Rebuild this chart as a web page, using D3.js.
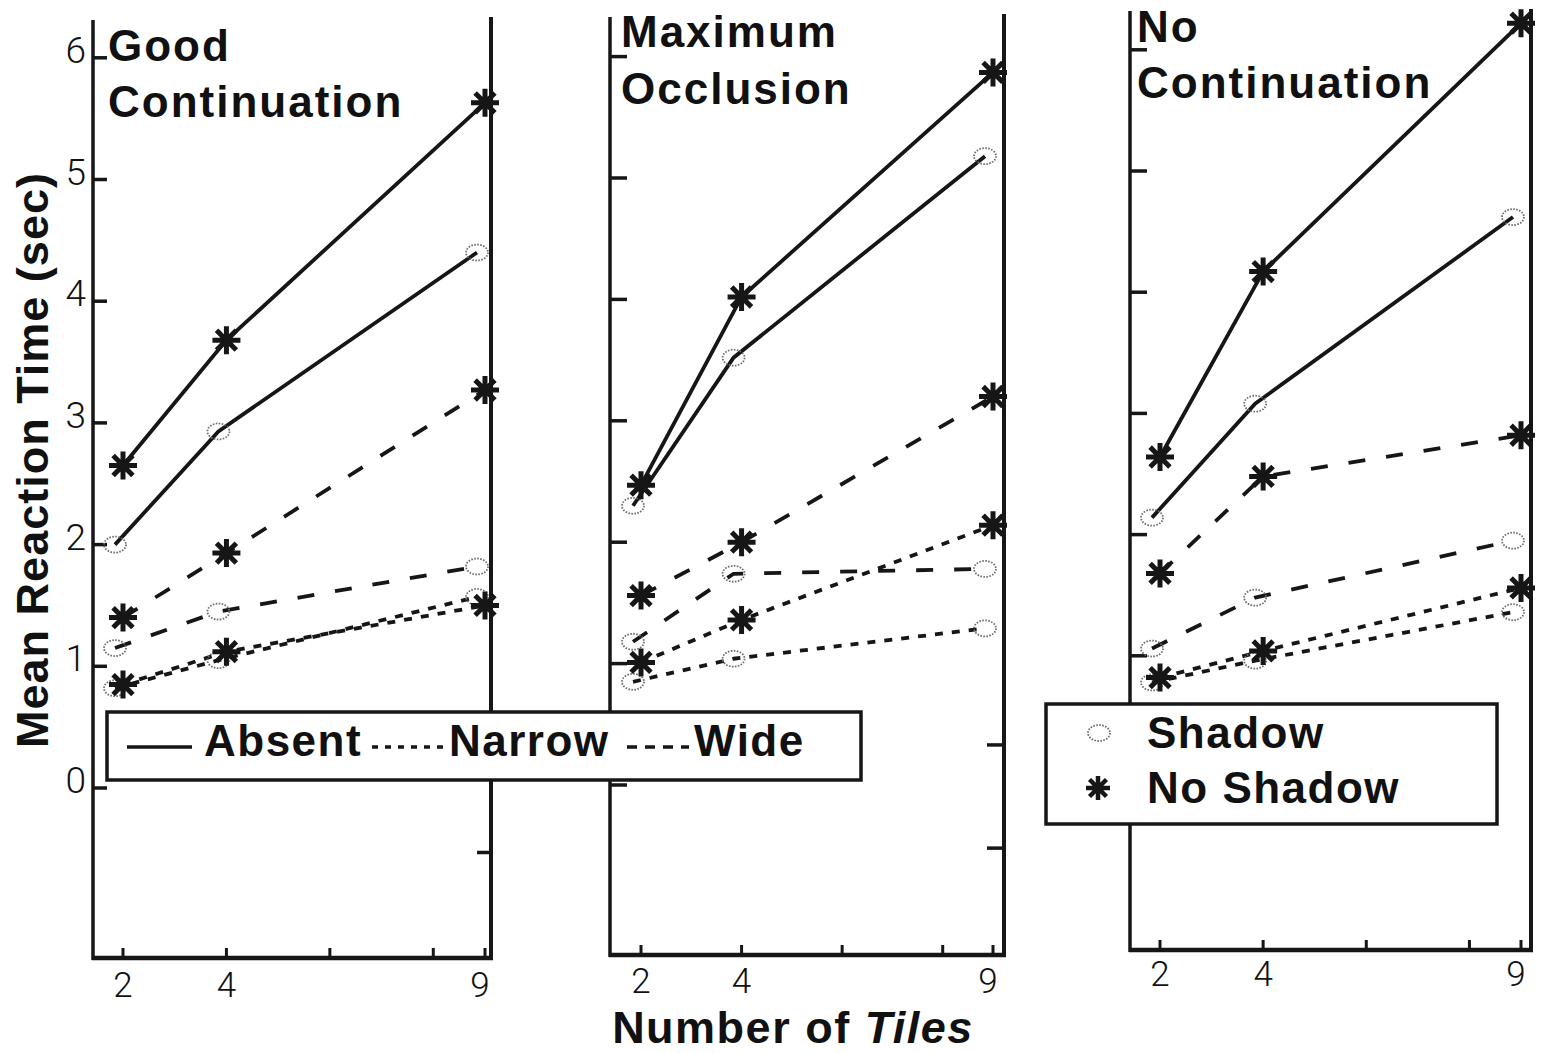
<!DOCTYPE html>
<html>
<head>
<meta charset="utf-8">
<script src="https://cdn.jsdelivr.net/npm/d3@7"></script>
<style>
  body { margin: 0; background: #fff; }
  text { font-family: "Liberation Sans", Arial, sans-serif; fill: #111; }
</style>
</head>
<body>
<div id="canvas"></div>
<script>
// number of tiles (x values)
const tiles = [2, 4, 9]
const xTicks = [2, 4, 6, 8, 9]
const xTickLabels = [2, 4, 9]
const yTicks = [0, 1, 2, 3, 4, 5, 6]

const panelTitles = [["Good", "Continuation"], ["Maximum", "Occlusion"], ["No", "Continuation"]]
const lineTypes = ["Absent", "Narrow", "Wide"]
const shadowTypes = ["Shadow", "No Shadow"]

// Good Continuation
const goodAbsentShadow = [2.00, 2.93, 4.40]
const goodAbsentNoShadow = [2.65, 3.68, 5.63]
const goodNarrowShadow = [0.82, 1.05, 1.57]
const goodNarrowNoShadow = [0.85, 1.12, 1.50]
const goodWideShadow = [1.15, 1.45, 1.82]
const goodWideNoShadow = [1.40, 1.93, 3.27]

// Maximum Occlusion
const occAbsentShadow = [2.30, 3.52, 5.18]
const occAbsentNoShadow = [2.47, 4.02, 5.87]
const occNarrowShadow = [0.85, 1.04, 1.29]
const occNarrowNoShadow = [1.01, 1.36, 2.14]
const occWideShadow = [1.18, 1.74, 1.78]
const occWideNoShadow = [1.56, 2.00, 3.20]

// No Continuation
const noAbsentShadow = [2.14, 3.08, 4.62]
const noAbsentNoShadow = [2.64, 4.17, 6.22]
const noNarrowShadow = [0.78, 0.96, 1.36]
const noNarrowNoShadow = [0.82, 1.04, 1.56]
const noWideShadow = [1.06, 1.48, 1.95]
const noWideNoShadow = [1.68, 2.48, 2.82]

// odd extra ticks on the right edge of each panel
const rightTicks = [[-0.53], [0.33, -0.52], []]

const panelData = [
    {Absent: [goodAbsentShadow, goodAbsentNoShadow], Narrow: [goodNarrowShadow, goodNarrowNoShadow], Wide: [goodWideShadow, goodWideNoShadow]},
    {Absent: [occAbsentShadow, occAbsentNoShadow], Narrow: [occNarrowShadow, occNarrowNoShadow], Wide: [occWideShadow, occWideNoShadow]},
    {Absent: [noAbsentShadow, noAbsentNoShadow], Narrow: [noNarrowShadow, noNarrowNoShadow], Wide: [noWideShadow, noWideNoShadow]}
]

// panel frames (pixels)
const frames = [
    {left: 93, right: 491, topL: 20, topR: 17, bottom: 958, x2: 123, x9: 485, y0: 788, unit: 121.7, tickLen: 14, labelY: 997},
    {left: 610, right: 1004, topL: 17, topR: 14, bottom: 955, x2: 641, x9: 993, y0: 785, unit: 121.4, tickLen: 17, labelY: 993},
    {left: 1130, right: 1531, topL: 11, topR: 9, bottom: 950, x2: 1160, x9: 1521, y0: 777, unit: 121.2, tickLen: 17, labelY: 986}
]
const titlePos = [[108, 61, 117], [621, 47, 104], [1137, 42, 98]]

const dashes = {Absent: null, Narrow: "8,9", Wide: "17,21"}
const ink = "#161616"

const svg = d3.select("#canvas").append("svg")
    .attr("width", 1541).attr("height", 1053)

function asteriskPath(r){
    let p = ""
    for (let i = 0; i < 8; i++) {
        const a = i * Math.PI / 4
        p += `M0,0L${(r * Math.cos(a)).toFixed(2)},${(r * Math.sin(a)).toFixed(2)}`
    }
    return p
}

function drawAsterisk(g, x, y, r, w){
    g.append("path").attr("d", asteriskPath(r))
        .attr("transform", `translate(${x},${y})`)
        .attr("stroke", ink).attr("stroke-width", w || 5).attr("fill", "none")
}
function drawCircle(g, x, y, rx, ry){
    g.append("ellipse").attr("cx", x).attr("cy", y).attr("rx", rx).attr("ry", ry)
        .attr("fill", "none").attr("stroke", "#6f6f6f")
        .attr("stroke-width", 1.8).attr("stroke-dasharray", "1.6,1.4")
}

frames.forEach((f, pi) => {
    const g = svg.append("g")
    const x = d3.scaleLinear().domain([2, 9]).range([f.x2, f.x9])
    const y = d3.scaleLinear().domain([0, 6]).range([f.y0, f.y0 - 6 * f.unit])

    // frame lines
    g.append("line").attr("x1", f.left).attr("x2", f.left).attr("y1", f.topL).attr("y2", f.bottom + 2)
        .attr("stroke", ink).attr("stroke-width", 3.5)
    g.append("line").attr("x1", f.right).attr("x2", f.right).attr("y1", f.topR).attr("y2", f.bottom + 2)
        .attr("stroke", ink).attr("stroke-width", 4)
    g.append("line").attr("x1", f.left - 1).attr("x2", f.right + 2).attr("y1", f.bottom).attr("y2", f.bottom)
        .attr("stroke", ink).attr("stroke-width", 4.5)

    // y ticks
    g.selectAll(".yt").data(yTicks).enter().append("line")
        .attr("x1", f.left).attr("x2", f.left + f.tickLen)
        .attr("y1", d => y(d)).attr("y2", d => y(d))
        .attr("stroke", ink).attr("stroke-width", 3.5)
    g.selectAll(".rt").data(rightTicks[pi]).enter().append("line")
        .attr("x1", f.right).attr("x2", f.right - f.tickLen)
        .attr("y1", d => y(d)).attr("y2", d => y(d))
        .attr("stroke", ink).attr("stroke-width", 3.5)
    if (pi === 0) {
        g.selectAll(".yl").data(yTicks).enter().append("text")
            .attr("x", f.left - 7).attr("y", d => y(d) + 5)
            .attr("text-anchor", "end")
            .style("font-family", "Roboto, 'Liberation Sans', sans-serif")
            .style("font-weight", 300)
            .style("font-size", "37px")
            .text(d => d)
    }

    // x ticks
    g.selectAll(".xt").data(xTicks).enter().append("line")
        .attr("x1", d => x(d)).attr("x2", d => x(d))
        .attr("y1", f.bottom).attr("y2", f.bottom - 10)
        .attr("stroke", ink).attr("stroke-width", 3)
    g.selectAll(".xl").data(xTickLabels).enter().append("text")
        .attr("x", d => x(d) - (d === 9 ? 5 : 0)).attr("y", f.labelY)
        .attr("text-anchor", "middle")
        .style("font-family", "Roboto, 'Liberation Sans', sans-serif")
        .style("font-weight", 300)
        .style("font-size", "35px")
        .text(d => d)

    // series lines
    lineTypes.forEach(lt => {
        panelData[pi][lt].forEach((vals, si) => {
            const off = si === 0 ? -8 : 0
            const line = d3.line().x((d, i) => x(tiles[i]) + off).y(d => y(d))
            g.append("path").datum(vals)
                .attr("d", line)
                .attr("fill", "none").attr("stroke", ink)
                .attr("stroke-width", 3.8)
                .attr("stroke-dasharray", dashes[lt])
        })
    })
    // markers
    lineTypes.forEach(lt => {
        panelData[pi][lt].forEach((vals, si) => {
            vals.forEach((v, i) => {
                if (si === 0) drawCircle(g, x(tiles[i]) - 8, y(v), 11, 8)
                else drawAsterisk(g, x(tiles[i]), y(v), 14)
            })
        })
    })

    // title
    const tp = titlePos[pi]
    panelTitles[pi].forEach((t, i) => {
        g.append("text").attr("x", tp[0]).attr("y", i === 0 ? tp[1] : tp[2])
            .style("font-size", "44px").style("font-weight", "bold")
            .style("letter-spacing", "2px")
            .text(t)
    })
})

// axis titles
svg.append("text")
    .attr("transform", "translate(48,460) rotate(-90)")
    .attr("text-anchor", "middle")
    .style("font-size", "45px").style("font-weight", "bold").style("letter-spacing", "1px")
    .text("Mean Reaction Time (sec)")

const xTitle = svg.append("text")
    .attr("x", 793).attr("y", 1043)
    .attr("text-anchor", "middle")
    .style("font-size", "45px").style("font-weight", "bold").style("letter-spacing", "1.5px")
xTitle.append("tspan").text("Number of ")
xTitle.append("tspan").style("font-style", "italic").text("Tiles")

// legend: line styles
const leg1 = svg.append("g")
leg1.append("rect").attr("x", 107).attr("y", 712).attr("width", 754).attr("height", 68)
    .attr("fill", "#fff").attr("stroke", ink).attr("stroke-width", 3.5)
const legSamples = [[127, 192, 204], [372, 444, 449], [627, 689, 694]]
const legDash = {Absent: null, Narrow: "6,7", Wide: "10,8"}
lineTypes.forEach((lt, i) => {
    const s = legSamples[i]
    leg1.append("line").attr("x1", s[0]).attr("x2", s[1]).attr("y1", 747).attr("y2", 747)
        .attr("stroke", ink).attr("stroke-width", 3.5)
        .attr("stroke-dasharray", legDash[lt])
    leg1.append("text").attr("x", s[2]).attr("y", 756)
        .style("font-size", "44px").style("font-weight", "bold").style("letter-spacing", "1.5px")
        .text(lt)
})

// legend: markers
const leg2 = svg.append("g")
leg2.append("rect").attr("x", 1046).attr("y", 704).attr("width", 451).attr("height", 120)
    .attr("fill", "#fff").attr("stroke", ink).attr("stroke-width", 3.5)
shadowTypes.forEach((st, i) => {
    const cy = 733 + i * 55
    if (i === 0) drawCircle(leg2, 1099, cy, 11, 8)
    else drawAsterisk(leg2, 1098, cy, 12, 4.5)
    leg2.append("text").attr("x", 1147).attr("y", 748 + i * 55)
        .style("font-size", "44px").style("font-weight", "bold").style("letter-spacing", "1.5px")
        .text(st)
})
</script>
</body>
</html>
